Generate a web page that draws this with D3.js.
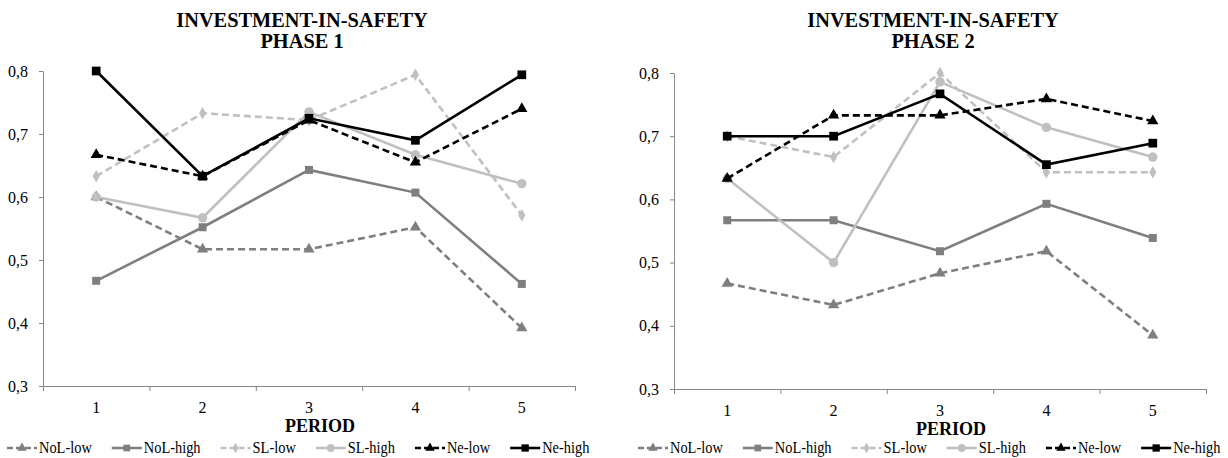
<!DOCTYPE html>
<html lang="en">
<head>
<meta charset="utf-8">
<title>Investment-in-safety</title>
<script src="https://d3js.org/d3.v7.min.js"></script>
<style>
  body { margin: 0; background: #fff; }
  svg { display: block; }
  svg text { font-family: "Liberation Serif", "Times New Roman", serif; }
</style>
</head>
<body>
<svg id="chart"></svg>
<script>
const width = 1228;
const height = 458;

// data
const periods = ["1", "2", "3", "4", "5"];
const seriesNames = ["NoL-low", "NoL-high", "SL-low", "SL-high", "Ne-low", "Ne-high"];
const yTicks = [0.3, 0.4, 0.5, 0.6, 0.7, 0.8];

const phase1NoLLow  = [0.600, 0.517, 0.517, 0.552, 0.392];
const phase1NoLHigh = [0.467, 0.552, 0.643, 0.607, 0.462];
const phase1SLLow   = [0.633, 0.733, 0.722, 0.794, 0.571];
const phase1SLHigh  = [0.600, 0.567, 0.735, 0.667, 0.621];
const phase1NeLow   = [0.667, 0.633, 0.722, 0.655, 0.740];
const phase1NeHigh  = [0.800, 0.633, 0.725, 0.690, 0.794];

const phase2NoLLow  = [0.467, 0.433, 0.483, 0.518, 0.385];
const phase2NoLHigh = [0.567, 0.567, 0.518, 0.593, 0.539];
const phase2SLLow   = [0.700, 0.667, 0.800, 0.643, 0.643];
const phase2SLHigh  = [0.633, 0.500, 0.786, 0.714, 0.667];
const phase2NeLow   = [0.633, 0.733, 0.733, 0.759, 0.724];
const phase2NeHigh  = [0.700, 0.700, 0.767, 0.655, 0.689];

const seriesStyle = {
  "NoL-low":  { color: "#7f7f7f", dash: "7,4", symbol: d3.symbolTriangle, size: 55 },
  "NoL-high": { color: "#7f7f7f", dash: null,  symbol: d3.symbolSquare,   size: 64 },
  "SL-low":   { color: "#c0c0c0", dash: "7,4", symbol: d3.symbolDiamond,  size: 45 },
  "SL-high":  { color: "#c0c0c0", dash: null,  symbol: d3.symbolCircle,   size: 70 },
  "Ne-low":   { color: "#000000", dash: "7,4", symbol: d3.symbolTriangle, size: 55 },
  "Ne-high":  { color: "#000000", dash: null,  symbol: d3.symbolSquare,   size: 76 }
};

const panels = [
  { title: "PHASE 1", x0: 43, x1: 575, yTop: 71, yBottom: 386, legendX: 7,
    values: [phase1NoLLow, phase1NoLHigh, phase1SLLow, phase1SLHigh, phase1NeLow, phase1NeHigh] },
  { title: "PHASE 2", x0: 674, x1: 1206, yTop: 73, yBottom: 389, legendX: 638,
    values: [phase2NoLLow, phase2NoLHigh, phase2SLLow, phase2SLHigh, phase2NeLow, phase2NeHigh] }
];

const axisColor = "#868686";
const comma = v => d3.format(".1f")(v).replace(".", ",");

const svg = d3.select("#chart")
  .attr("width", width)
  .attr("height", height);

panels.forEach(p => {
  const g = svg.append("g");

  const x = d3.scaleBand().domain(periods).range([p.x0, p.x1]);
  const y = d3.scaleLinear().domain([0.3, 0.8]).range([p.yBottom, p.yTop]);
  const edges = d3.scaleLinear().domain([0, periods.length]).range([p.x0, p.x1]);

  const cx = (p.x0 + p.x1) / 2;

  // two line title, glyphs look a bit narrow in the original
  const title = g.append("text")
    .attr("transform", `translate(${cx - 7},0) scale(0.97,1)`)
    .attr("text-anchor", "middle")
    .attr("font-size", 21)
    .attr("font-weight", "bold");
  title.append("tspan").attr("x", 0).attr("y", 27).text("INVESTMENT-IN-SAFETY");
  title.append("tspan").attr("x", 0).attr("y", 48).text(p.title);

  // y axis
  const yAxis = g.append("g")
    .attr("transform", `translate(${p.x0},0)`)
    .call(d3.axisLeft(y).tickValues(yTicks).tickFormat(comma).tickSize(4).tickSizeOuter(0).tickPadding(11));
  yAxis.select(".domain").attr("stroke", axisColor);
  yAxis.selectAll(".tick line").attr("stroke", axisColor);
  yAxis.selectAll(".tick text")
    .attr("font-size", 16)
    .attr("fill", "#000");

  // x axis, ticks between categories
  const xAxis = g.append("g")
    .attr("transform", `translate(0,${p.yBottom})`)
    .call(d3.axisBottom(edges).tickValues(d3.range(periods.length + 1)).tickFormat("").tickSize(5).tickSizeOuter(0));
  xAxis.select(".domain").attr("stroke", axisColor);
  xAxis.selectAll(".tick line").attr("stroke", axisColor);

  g.selectAll(".xlab")
    .data(periods)
    .enter()
    .append("text")
    .attr("class", "xlab")
    .attr("x", d => x(d) + x.bandwidth() / 2)
    .attr("y", p.yBottom + 27)
    .attr("text-anchor", "middle")
    .attr("font-size", 16)
    .text(d => d);

  g.append("text")
    .attr("transform", `translate(${cx + 11},${p.yBottom + 46}) scale(0.95,1)`)
    .attr("text-anchor", "middle")
    .attr("font-size", 19)
    .attr("font-weight", "bold")
    .text("PERIOD");

  // series lines and markers
  const line = d3.line()
    .x((d, i) => x(periods[i]) + x.bandwidth() / 2)
    .y(d => y(d));

  seriesNames.forEach((name, si) => {
    const st = seriesStyle[name];
    const vals = p.values[si];
    g.append("path")
      .datum(vals)
      .attr("d", line)
      .attr("fill", "none")
      .attr("stroke", st.color)
      .attr("stroke-width", 2.6)
      .attr("stroke-dasharray", st.dash);
    g.selectAll(null)
      .data(vals)
      .enter()
      .append("path")
      .attr("d", d3.symbol().type(st.symbol).size(st.size))
      .attr("transform", (d, i) => `translate(${x(periods[i]) + x.bandwidth() / 2},${y(d)})`)
      .attr("fill", st.color);
  });

  // legend
  const ly = 448;
  let lx = p.legendX;
  seriesNames.forEach(name => {
    const st = seriesStyle[name];
    const item = g.append("g");
    item.append("line")
      .attr("x1", lx).attr("x2", lx + 30)
      .attr("y1", ly).attr("y2", ly)
      .attr("stroke", st.color)
      .attr("stroke-width", 2.6)
      .attr("stroke-dasharray", st.dash ? "6,3" : null);
    item.append("path")
      .attr("d", d3.symbol().type(st.symbol).size(st.size * 0.7))
      .attr("transform", `translate(${lx + 15},${ly})`)
      .attr("fill", st.color);
    const k = 0.9;
    const t = item.append("text")
      .attr("transform", `translate(${lx + 32},${ly + 5}) scale(${k},1)`)
      .attr("font-size", 16)
      .text(name);
    lx += 32 + t.node().getComputedTextLength() * k + 20;
  });
});
</script>
</body>
</html>
